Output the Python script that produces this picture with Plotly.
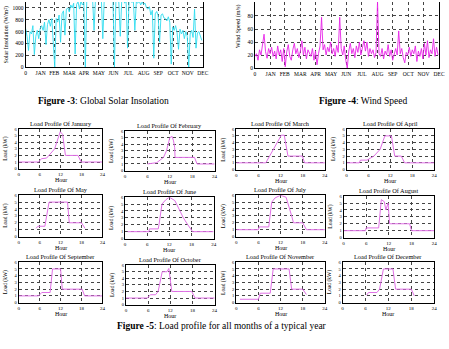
import plotly.graph_objects as go

W, H = 449, 349
SERIF = "Liberation Serif"

# ---------------- data ----------------
month_tick_days = [0, 31, 59, 90, 120, 151, 181, 212, 243, 273, 304, 334, 365]
month_tick_text = ["0", "JAN", "FEB", "MAR", "APR", "MAY", "JUN", "JUL", "AUG", "SEP", "OCT", "NOV", "DEC"]

sample_days = list(range(0, 366, 3))  # one reading every third day

solar_wm2 = [650, 520, 280, 600, 560, 700, 210, 520, 620, 480, 650,
             700, 620, 760, 380, 720, 800, 690, 820, 300,
             0,
             820, 760, 880, 420, 900, 950, 540, 980, 1000, 930,
             1050, 1000, 1080, 220, 1060, 1100, 980, 1120, 1050, 1090,
             0,
             1150, 1120, 1180, 1100, 1150, 620, 1160, 1130, 1180, 1120, 1170, 480, 1150, 1180, 1130, 1160, 1100, 1150, 1130,
             0,
             1150, 1120, 1100, 520, 1130, 1160, 1080, 1120, 320, 1100, 1150, 1090, 1120, 620, 1100, 1080, 1120, 1050, 1100, 1060, 1080,
             1000, 980, 1020, 880, 960, 150, 900, 940, 870, 420, 880, 900, 830,
             820, 780, 850, 760, 50,
             680, 620, 700, 580, 300, 640, 560, 620, 480, 600, 520,
             0,
             560, 620, 500, 980, 320, 580, 600, 500, 450]

wind_ms = [18, 22, 12, 28, 20, 35, 52, 25, 15, 30, 22, 32, 18, 26, 14, 34, 20, 28, 10, 30,
           2, 25, 36, 18, 12, 28, 38, 22, 30, 16, 26, 42, 20, 32, 14, 28, 24, 18, 30, 12,
           26, 5, 22, 34, 78, 28, 36, 20, 32, 25, 40, 22, 30, 18, 35, 24, 78, 30, 20, 34,
           12, 0, 26, 38, 22, 30, 16, 34, 24, 40, 20, 32, 42, 26, 40, 18, 30, 22, 28, 16,
           24, 102, 22, 18, 30, 14, 26, 20, 36, 18, 28, 12, 24, 30, 20, 57, 22, 30, 16, 8,
           24, 20, 32, 18, 28, 22, 34, 10, 26, 18, 30, 14, 38, 20, 42, 16, 28, 22, 45, 18,
           32, 20]

solar_y_ticks = [0, 200, 400, 600, 800, 1000]
wind_y_ticks = [0, 20, 40, 60, 80, 100]

hour_ticks = [0, 6, 12, 18, 24]
load_ticks = [0, 1, 2, 3, 4, 5, 6]

month_names = ["January", "February", "March", "April", "May", "June",
               "July", "August", "September", "October", "November", "December"]

jan_h = [0, 5.7, 6.5, 8, 10.3, 11.5, 11.9, 12.6, 13.4, 17, 17.9, 24]
jan_kw = [1, 1, 1.5, 1.6, 3, 5, 5.6, 5.2, 2, 2, 1, 1]
feb_h = [6, 8.5, 10.3, 11.1, 12, 12.6, 13, 13.3, 13.4, 18.6, 19.3, 24]
feb_kw = [1, 1.2, 2, 3, 5, 5.2, 4.5, 3.5, 2, 2, 1, 1]
mar_h = [0, 8, 12.2, 13, 14, 17.9, 18.5, 24]
mar_kw = [1, 1, 5.1, 5.1, 2, 2, 1, 1]
apr_h = [0, 3.5, 3.8, 5.6, 7.5, 9.2, 10.5, 12.3, 13.2, 15, 15.9, 24]
apr_kw = [1, 1, 1.4, 1.4, 2, 3, 5, 5, 2, 2, 1, 1]
may_h = [5, 5.5, 7.5, 8.7, 14, 14.5, 18, 19]
may_kw = [1.2, 1.5, 1.5, 5, 5, 2, 2, 1.2]
jun_h = [0.7, 6.5, 6.6, 9, 9.2, 10, 11, 12, 13.5, 15.8, 17, 18.3, 24]
jun_kw = [1, 1, 1.4, 1.4, 2, 5, 5.6, 6, 5.5, 3, 2, 1, 1]
jul_h = [0, 6, 6.2, 8.8, 9.6, 10.5, 12, 13.5, 15, 15.5, 18, 19, 24]
jul_kw = [1, 1, 1.4, 1.4, 5, 5.6, 6, 5.7, 3, 2, 2, 1, 1]
aug_h = [0, 5.8, 6, 9.3, 10, 10.8, 11.2, 11.8, 12.2, 17.5, 18, 24]
aug_kw = [1, 1, 1.4, 1.4, 5.5, 5.2, 4, 5, 2, 2, 1, 1]
sep_h = [0, 5.7, 6.6, 9, 9.7, 12, 12.5, 18.2, 18.9, 24]
sep_kw = [1, 1, 1.5, 1.5, 5, 5, 2, 2, 1, 1]
oct_h = [0, 5.8, 6.6, 8, 8.7, 9.8, 11.1, 11.6, 12.4, 17.8, 18.7, 24]
oct_kw = [1, 1, 1.5, 1.5, 2, 5, 5, 5.5, 2, 2, 1, 1]
nov_h = [1, 6, 6.5, 9.2, 10, 14.3, 15, 18, 19]
nov_kw = [0.5, 0.5, 1.4, 1.4, 5, 5, 2, 2, 1.2]
dec_h = [6.3, 6.8, 9, 9.7, 10.7, 13.2, 13.9, 18, 18.8]
dec_kw = [1.1, 1.5, 1.5, 2, 5, 5, 2, 2, 1]

load_hours = [jan_h, feb_h, mar_h, apr_h, may_h, jun_h, jul_h, aug_h, sep_h, oct_h, nov_h, dec_h]
load_kw = [jan_kw, feb_kw, mar_kw, apr_kw, may_kw, jun_kw, jul_kw, aug_kw, sep_kw, oct_kw, nov_kw, dec_kw]

# ---------------- layout helpers (pixel boxes: left, right, top, bottom) ----------------
def fx(p):
    return p / W

def fy(p):
    return 1 - p / H

small_boxes = [
    (18, 103, 129, 169), (126, 217, 131, 171), (239, 329, 129, 170), (351, 440, 129, 170),
    (18, 103, 196, 238), (126, 216, 198, 240), (239, 329, 196, 238), (348, 440, 197, 239),
    (18, 103, 264, 305), (127, 217, 267, 307), (239, 329, 264, 305), (347, 440, 264, 305),
]

fig = go.Figure()
layout = dict(width=W, height=H, margin=dict(l=0, r=0, t=0, b=0),
              paper_bgcolor="white", plot_bgcolor="white", showlegend=False,
              font=dict(family=SERIF, color="black"))
annotations = []

GRID = dict(showgrid=True, gridcolor="#444444", griddash="dot", gridwidth=0.7,
            zeroline=False, ticks="", showline=True, linecolor="black", linewidth=1)

def ax_names(i):
    s = "" if i == 1 else str(i)
    return "xaxis" + s, "yaxis" + s, "x" + s, "y" + s

# ---- top-left: solar insolation ----
xa, ya, xr, yr = ax_names(1)
layout[xa] = dict(domain=[fx(25), fx(205)], range=[0, 365], anchor=yr, tickvals=month_tick_days,
                  ticktext=month_tick_text, tickfont=dict(size=5.5, family=SERIF), mirror=False, **GRID)
layout[ya] = dict(domain=[fy(66), 1], range=[0, 1100], anchor=xr, tickvals=solar_y_ticks,
                  tickfont=dict(size=5.5, family=SERIF), mirror=True, **GRID)
fig.add_trace(go.Scatter(x=sample_days, y=solar_wm2, mode="lines", xaxis=xr, yaxis=yr,
                         line=dict(color="#2fdcef", width=0.9)))
annotations.append(dict(text="Solar Insolation (W/m²)", x=fx(6), y=fy(33), xref="paper", yref="paper",
                        textangle=-90, showarrow=False, font=dict(size=6, family=SERIF),
                        xanchor="center", yanchor="middle"))

# ---- top-right: wind speed ----
xa, ya, xr, yr = ax_names(2)
layout[xa] = dict(domain=[fx(258), fx(445)], range=[0, 365], anchor=yr, tickvals=month_tick_days,
                  ticktext=month_tick_text, tickfont=dict(size=5.5, family=SERIF), mirror=False, **GRID)
layout[ya] = dict(domain=[fy(67), 1], range=[0, 101.5], anchor=xr, tickvals=wind_y_ticks,
                  tickfont=dict(size=5.5, family=SERIF), mirror=True, **GRID)
fig.add_trace(go.Scatter(x=sample_days, y=wind_ms, mode="lines", xaxis=xr, yaxis=yr,
                         line=dict(color="#e822e8", width=0.9)))
annotations.append(dict(text="Wind Speed (m/s)", x=fx(241), y=fy(25), xref="paper", yref="paper",
                        textangle=-90, showarrow=False, font=dict(size=6, family=SERIF),
                        xanchor="center", yanchor="middle"))

# ---- captions ----
annotations.append(dict(text="<b>Figure -3</b>: Global Solar Insolation", x=fx(104), y=fy(100),
                        xref="paper", yref="paper", showarrow=False, font=dict(size=9.5, family=SERIF),
                        xanchor="center", yanchor="middle"))
annotations.append(dict(text="<b>Figure -4</b>: Wind Speed", x=fx(368), y=fy(100),
                        xref="paper", yref="paper", showarrow=False, font=dict(size=9.5, family=SERIF),
                        xanchor="center", yanchor="middle"))
annotations.append(dict(text="<b>Figure -5</b>: Load profile for all months of a typical year", x=fx(225), y=fy(329),
                        xref="paper", yref="paper", showarrow=False, font=dict(size=9.5, family=SERIF),
                        xanchor="center", yanchor="middle"))

# ---- 12 monthly load profiles ----
for k in range(12):
    i = k + 3
    L, R, T, B = small_boxes[k]
    xa, ya, xr, yr = ax_names(i)
    layout[xa] = dict(domain=[fx(L), fx(R)], range=[0, 24], anchor=yr, tickvals=hour_ticks,
                      tickfont=dict(size=5, family=SERIF), mirror=True, **GRID)
    layout[ya] = dict(domain=[fy(B), fy(T)], range=[0, 6], anchor=xr, tickvals=load_ticks,
                      tickfont=dict(size=4.5, family=SERIF), mirror=True, **GRID)
    fig.add_trace(go.Scatter(x=load_hours[k], y=load_kw[k], mode="lines", xaxis=xr, yaxis=yr,
                             line=dict(color="#e070e6", width=1)))
    annotations.append(dict(text="Load Profile Of " + month_names[k], x=fx((L + R) / 2), y=fy(T - 6),
                            xref="paper", yref="paper", showarrow=False, font=dict(size=6.3, family=SERIF),
                            xanchor="center", yanchor="middle"))
    annotations.append(dict(text="Load (kW)", x=fx(L - 13), y=fy((T + B) / 2),
                            xref="paper", yref="paper", showarrow=False, textangle=-90,
                            font=dict(size=5.5, family=SERIF), xanchor="center", yanchor="middle"))
    annotations.append(dict(text="Hour", x=fx((L + R) / 2), y=fy(B + 12),
                            xref="paper", yref="paper", showarrow=False,
                            font=dict(size=6, family=SERIF), xanchor="center", yanchor="middle"))

layout["annotations"] = annotations
fig.update_layout(**layout)
fig.write_html("out.html")
